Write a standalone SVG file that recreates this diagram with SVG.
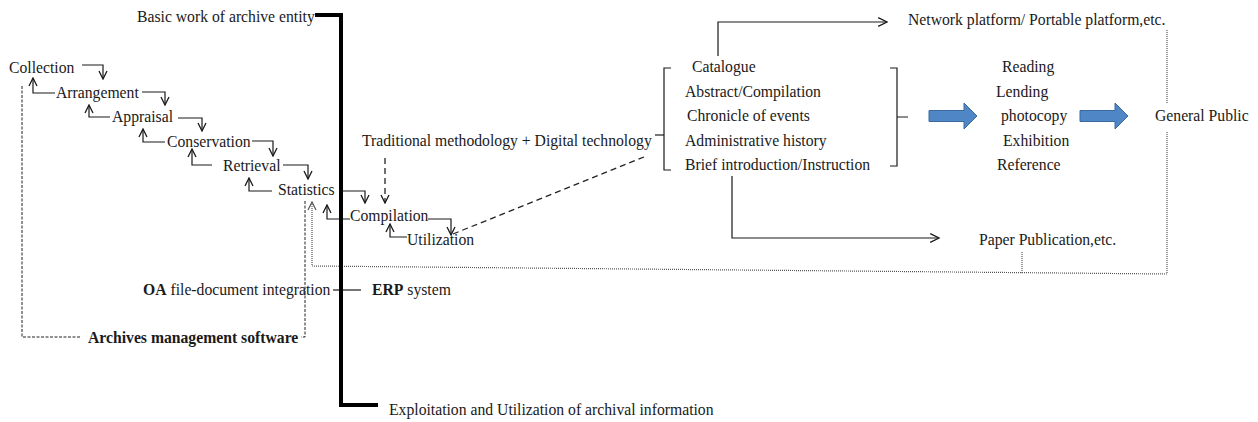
<svg xmlns="http://www.w3.org/2000/svg" width="1258" height="422" viewBox="0 0 1258 422">
<style>
text{font-family:"Liberation Serif","Times New Roman",serif;font-size:15.7px;fill:#1a1a1a}
.b{font-weight:bold}
.ln{fill:none;stroke:#1a1a1a;stroke-width:1.2}
.dash{fill:none;stroke:#222;stroke-width:1.3;stroke-dasharray:6,4}
.fdash{fill:none;stroke:#222;stroke-width:1;stroke-dasharray:3,1.5}
.dot{fill:none;stroke:#555;stroke-width:1.2;stroke-dasharray:1,1}
.thick{fill:none;stroke:#000;stroke-width:4}
.blue{fill:#4F87C6;stroke:#3A6A9E;stroke-width:1}
</style>
<defs>
<marker id="a" viewBox="0 0 10 10" refX="9" refY="5" markerWidth="10" markerHeight="10" orient="auto" markerUnits="userSpaceOnUse"><path d="M1,1 L9,5 L1,9" fill="none" stroke="#1a1a1a" stroke-width="1.3"/></marker>
<marker id="ab" viewBox="0 0 10 10" refX="9" refY="5" markerWidth="11" markerHeight="11" orient="auto" markerUnits="userSpaceOnUse"><path d="M1,1 L9,5 L1,9" fill="none" stroke="#1a1a1a" stroke-width="1.1"/></marker>
<marker id="ag" viewBox="0 0 10 10" refX="9" refY="5" markerWidth="10" markerHeight="10" orient="auto" markerUnits="userSpaceOnUse"><path d="M1,1 L9,5 L1,9" fill="none" stroke="#555" stroke-width="1.2"/></marker>
</defs>
<g id="connectors">
<path class="ln" d="M82,65 H103 V79" marker-end="url(#a)"/>
<path class="ln" d="M55,93 H33 V78" marker-end="url(#a)"/>
<path class="ln" d="M142,92 H165 V105" marker-end="url(#a)"/>
<path class="ln" d="M110,117 H89 V105" marker-end="url(#a)"/>
<path class="ln" d="M178,118 H202 V131" marker-end="url(#a)"/>
<path class="ln" d="M165,142 H143 V129" marker-end="url(#a)"/>
<path class="ln" d="M252,141 H273 V156" marker-end="url(#a)"/>
<path class="ln" d="M212,165 H192 V149" marker-end="url(#a)"/>
<path class="ln" d="M283,165 H308 V179" marker-end="url(#a)"/>
<path class="ln" d="M272,191 H249 V178" marker-end="url(#a)"/>
<path class="ln" d="M343,191 H365 V203" marker-end="url(#a)"/>
<path class="ln" d="M350,219 H327 V205" marker-end="url(#a)"/>
<path class="dash" d="M385,158 V203" stroke-dasharray="9,5" marker-end="url(#a)"/>
<path class="ln" d="M428,219 H451 V235" marker-end="url(#a)"/>
<path class="ln" d="M407,237 H390 V224" marker-end="url(#a)"/>
<path class="dash" d="M453,234 L644,157" stroke-dasharray="5,4"/>
<path class="ln" d="M655,135 H664"/>
<path class="ln" d="M671,68 H664 V170 H671"/>
<path class="ln" d="M890,68 H897 V166 H890 M897,117 H908"/>
<path class="ln" d="M718,56 V22 H887" marker-end="url(#ab)"/>
<path class="ln" d="M732,176 V238 H939" marker-end="url(#ab)"/>
<path class="blue" d="M929,110.5 H964 V103 L977,116 L964,129 V121.5 H929 Z"/>
<path class="blue" d="M1080,110.5 H1115 V103 L1128,116 L1115,129 V121.5 H1080 Z"/>
<path class="dot" d="M1167,30 V103"/>
<path class="dot" d="M1167,132 V274 L312,266 V202" marker-end="url(#ag)"/>
<path class="dot" d="M1022,252 V273"/>
<path class="fdash" d="M80,337 H22 V85"/>
<path class="fdash" d="M305,201 V337 H301"/>
<path class="ln" d="M333,290 H361" stroke-width="2"/>
<path class="thick" d="M315,15 H341 V405 H378"/>
</g>
<g id="basic-work"><text x="137" y="22">Basic work of archive entity</text></g>
<g id="exploitation"><text x="389" y="415">Exploitation and Utilization of archival information</text></g>
<g id="collection"><text x="9" y="73">Collection</text></g>
<g id="arrangement"><text x="56" y="98">Arrangement</text></g>
<g id="appraisal"><text x="112" y="122">Appraisal</text></g>
<g id="conservation"><text x="167" y="147">Conservation</text></g>
<g id="retrieval"><text x="223" y="171">Retrieval</text></g>
<g id="statistics"><text x="278" y="195">Statistics</text></g>
<g id="compilation"><text x="350" y="221">Compilation</text></g>
<g id="utilization"><text x="407" y="245">Utilization</text></g>
<g id="traditional"><text x="362" y="146">Traditional methodology + Digital technology</text></g>
<g id="oa"><text x="143" y="295"><tspan class="b">OA</tspan> file-document integration</text></g>
<g id="erp"><text x="372" y="295"><tspan class="b">ERP</tspan> system</text></g>
<g id="archives-software"><text class="b" x="88" y="343">Archives management software</text></g>
<g id="products">
<text x="692" y="72">Catalogue</text>
<text x="685" y="97">Abstract/Compilation</text>
<text x="687" y="121">Chronicle of events</text>
<text x="685" y="146">Administrative history</text>
<text x="685" y="170">Brief introduction/Instruction</text>
</g>
<g id="services">
<text x="1002" y="72">Reading</text>
<text x="996" y="97">Lending</text>
<text x="1001" y="121">photocopy</text>
<text x="1003" y="146">Exhibition</text>
<text x="997" y="170">Reference</text>
</g>
<g id="network"><text x="908" y="25">Network platform/ Portable platform,etc.</text></g>
<g id="paper"><text x="979" y="245">Paper Publication,etc.</text></g>
<g id="general-public"><text x="1155" y="121">General Public</text></g>
</svg>
